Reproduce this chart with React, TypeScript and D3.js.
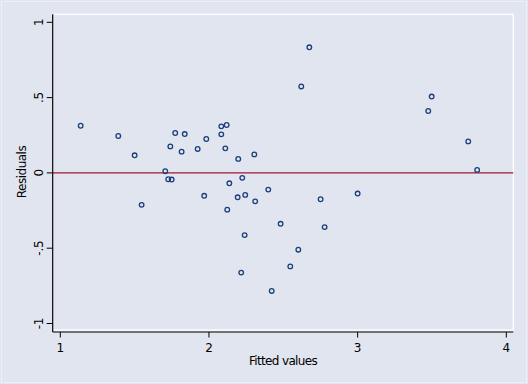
import React from "react";
import * as d3 from "d3";

const fitted = [1.137, 1.39, 1.5, 1.547, 1.706, 1.726, 1.749, 1.74, 1.773, 1.816, 1.837, 1.924, 1.968, 1.982, 2.083, 2.083, 2.119, 2.11, 2.123, 2.137, 2.197, 2.193, 2.224, 2.217, 2.244, 2.24, 2.305, 2.311, 2.399, 2.422, 2.482, 2.547, 2.601, 2.621, 2.675, 2.751, 2.778, 3.0, 3.475, 3.498, 3.744, 3.804];
const residuals = [0.313, 0.245, 0.117, -0.212, 0.011, -0.042, -0.044, 0.176, 0.265, 0.141, 0.258, 0.159, -0.152, 0.225, 0.309, 0.256, 0.318, 0.163, -0.244, -0.069, 0.093, -0.162, -0.033, -0.662, -0.146, -0.413, 0.123, -0.189, -0.111, -0.784, -0.338, -0.621, -0.51, 0.574, 0.834, -0.175, -0.36, -0.137, 0.411, 0.507, 0.209, 0.02];
const xTicks = [1, 2, 3, 4];
const yTicks = [1, 0.5, 0, -0.5, -1];
const yTickLabels = ["1", ".5", "0", "-.5", "-1"];

export default function App() {
  const W = 528, H = 384;
  const left = 52.7, right = 513.3, top = 14.3, bottom = 330;
  const x = d3.scaleLinear().domain([1, 4]).range([60.3, 506.3]);
  const y = d3.scaleLinear().domain([-1, 1]).range([323.5, 22.3]);
  const bg = "#e1e5ef";
  const font = "DejaVu Sans, sans-serif";
  const marker = "#1a3f7a";
  return (
    <svg width={W} height={H} style={{ position: "absolute", left: 0, top: 0 }}>
      <rect x={0} y={0} width={W} height={H} fill={bg} />
      <rect x={1.5} y={1.5} width={W - 3} height={H - 3} fill="none" stroke="#eceff6" strokeWidth={1} />
      <rect x={left} y={top} width={right - left} height={bottom - top} fill={bg} stroke="#ffffff" strokeWidth={1.3} />
      <line x1={left} x2={right} y1={y(0)} y2={y(0)} stroke="#a0172e" strokeWidth={1.3} />
      {fitted.map((f, i) => (
        <circle key={i} cx={x(f)} cy={y(residuals[i])} r={2.3} fill="none" stroke={marker} strokeWidth={1.3} />
      ))}
      {/* y axis */}
      <line x1={left} x2={left} y1={top} y2={332} stroke="#000" strokeWidth={1.2} />
      {yTicks.map((t, i) => (
        <g key={i}>
          <line x1={left - 6} x2={left} y1={y(t)} y2={y(t)} stroke="#000" strokeWidth={1} />
          <text transform={`translate(42.5,${y(t)}) rotate(-90)`} textAnchor="middle" fontFamily={font} fontSize={12} letterSpacing={-0.3} fill="#000">
            {yTickLabels[i]}
          </text>
        </g>
      ))}
      {/* x axis */}
      <line x1={left} x2={right} y1={332} y2={332} stroke="#000" strokeWidth={1.2} />
      {xTicks.map((t, i) => (
        <g key={i}>
          <line x1={x(t)} x2={x(t)} y1={332} y2={337.5} stroke="#000" strokeWidth={1} />
          <text x={x(t)} y={352} textAnchor="middle" fontFamily={font} fontSize={12} fill="#000">
            {String(t)}
          </text>
        </g>
      ))}
      <text x={283} y={365} textAnchor="middle" fontFamily={font} fontSize={12} letterSpacing={-0.65} fill="#000">
        Fitted values
      </text>
      <text transform={`translate(26,172) rotate(-90)`} textAnchor="middle" fontFamily={font} fontSize={12} letterSpacing={-0.5} fill="#000">
        Residuals
      </text>
    </svg>
  );
}
